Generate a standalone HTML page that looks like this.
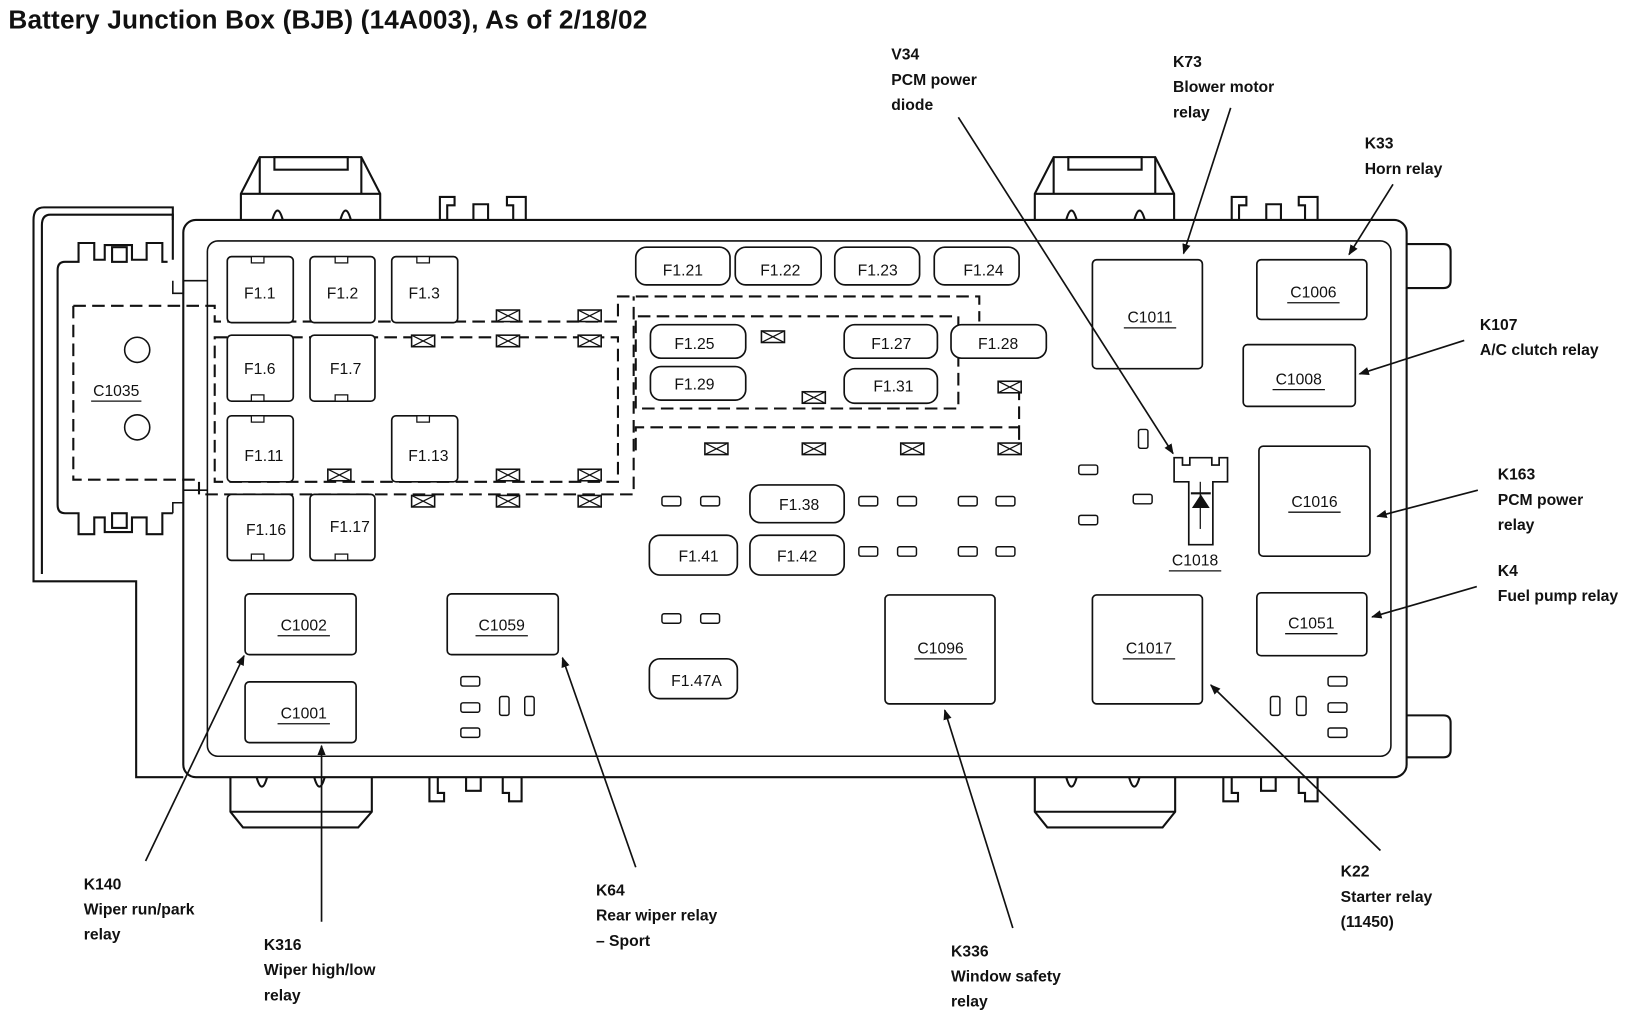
<!DOCTYPE html>
<html><head><meta charset="utf-8"><style>
html,body{margin:0;padding:0;background:#fff;}
svg{display:block;}
text{font-family:"Liberation Sans",Arial,sans-serif;fill:#111;}
.t{font-size:15px;text-anchor:middle;}
.l{font-size:15px;font-weight:bold;}
</style></head><body>
<svg width="1636" height="1016" viewBox="0 0 1562 970" preserveAspectRatio="none" xmlns="http://www.w3.org/2000/svg">
<defs>
<marker id="ar" markerWidth="10" markerHeight="8" refX="9" refY="4" orient="auto" markerUnits="userSpaceOnUse"><path d="M0,0 L10,4 L0,8 z" fill="#111"/></marker>
<g id="xb"><rect x="0" y="0" width="22" height="11" fill="#fff" stroke="#111" stroke-width="1.5"/><path d="M0,0 L22,11 M22,0 L0,11" stroke="#111" stroke-width="1.2"/></g>
<rect id="sh" width="18" height="9" rx="2" fill="#fff" stroke="#111" stroke-width="1.4"/>
<rect id="sv" width="9" height="18" rx="2" fill="#fff" stroke="#111" stroke-width="1.4"/>
</defs>
<text x="8" y="27" style="font-size:25px;font-weight:bold" textLength="610">Battery Junction Box (BJB) (14A003), As of 2/18/02</text>

<g fill="none" stroke="#111" stroke-width="2">
<path d="M230,210 V185 L248,150 H345 L363,185 V210"/><path d="M248,150 V185 M345,150 V185 M230,185 H363"/><rect x="262" y="150" width="70" height="12"/>
<path d="M260,210 Q265,192 270,210 M325,210 Q330,192 335,210"/>
<path d="M988,210 V185 L1006,150 H1103 L1121,185 V210"/><path d="M1006,150 V185 M1103,150 V185 M988,185 H1121"/><rect x="1020" y="150" width="70" height="12"/>
<path d="M1018,210 Q1023,192 1028,210 M1083,210 Q1088,192 1093,210"/>
<path d="M220,742 V775 L232,790 H342 L355,775 V742"/><path d="M220,775 H355"/>
<path d="M245,742 Q250,760 255,742 M300,742 Q305,760 310,742"/>
<path d="M988,742 V775 L1000,790 H1110 L1122,775 V742"/><path d="M988,775 H1122"/>
<path d="M1018,742 Q1023,760 1028,742 M1078,742 Q1083,760 1088,742"/>
<path d="M420,210 V188 H434 V196 H427 V210 M452,210 V195 H466 V210 M490,210 V196 H484 V188 H502 V210"/>
<path d="M1176,210 V188 H1190 V196 H1183 V210 M1209,210 V195 H1223 V210 M1246,210 V196 H1240 V188 H1258 V210"/>
<path d="M410,742 V765 H424 V757 H418 V742 M445,742 V755 H459 V742 M480,742 V757 H486 V765 H498 V742"/>
<path d="M1168,742 V765 H1182 V757 H1176 V742 M1204,742 V755 H1218 V742 M1240,742 V757 H1246 V765 H1258 V742"/>
<path d="M1343,233 H1378 Q1385,233 1385,240 V268 Q1385,275 1378,275 H1343"/>
<path d="M1343,683 H1378 Q1385,683 1385,690 V716 Q1385,723 1378,723 H1343"/>
<rect x="175" y="210" width="1168" height="532" rx="12"/>
<path d="M165,210 V198 H42 Q32,198 32,210 V555 H130 V742 H175"/>
<path d="M165,248 V205 H48 Q40,205 40,215 V548"/>
<path d="M160,250 H155 V232 H140 V248 H126 V234 H100 V248 H90 V232 H75 V250 H62 Q55,250 55,258 V482 Q55,490 62,490 H75 V510 H90 V494 H100 V508 H126 V494 H140 V510 H155 V490 H165"/>
<rect x="107" y="236" width="14" height="14"/><rect x="107" y="490" width="14" height="14"/>
</g>
<g fill="none" stroke="#111" stroke-width="1.5">
<rect x="198" y="230" width="1130" height="492" rx="10"/>
<path d="M198,268 H175 V280 H165 V268 M198,468 H175 V480 H165 V490"/>
<circle cx="131" cy="334" r="12"/><circle cx="131" cy="408" r="12"/>
</g>
<g fill="none" stroke="#111" stroke-width="2" stroke-dasharray="12,6">
<path d="M70,292 H205 V307 H590 V283 H935 V307"/>
<path d="M70,292 V458 H190 V472 H605 V283"/>
<rect x="205" y="322" width="385" height="138"/>
<path d="M607,390 V302 H915 V390 H607"/>
<path d="M607,430 V408 H973 V368 M973,408 V430"/>
</g>
<g>
<use href="#xb" x="474" y="296"/><use href="#xb" x="552" y="296"/>
<use href="#xb" x="393" y="320"/><use href="#xb" x="474" y="320"/><use href="#xb" x="552" y="320"/>
<use href="#xb" x="313" y="448"/><use href="#xb" x="474" y="448"/><use href="#xb" x="552" y="448"/>
<use href="#xb" x="393" y="473"/><use href="#xb" x="474" y="473"/><use href="#xb" x="552" y="473"/>
<use href="#xb" x="727" y="316"/><use href="#xb" x="766" y="374"/><use href="#xb" x="953" y="364"/>
<use href="#xb" x="673" y="423"/><use href="#xb" x="766" y="423"/><use href="#xb" x="860" y="423"/><use href="#xb" x="953" y="423"/>
</g>
<g fill="#fff" stroke="#111" stroke-width="1.6">
<rect x="217" y="245" width="63" height="63" rx="4"/><rect x="296" y="245" width="62" height="63" rx="4"/><rect x="374" y="245" width="63" height="63" rx="4"/>
<rect x="217" y="320" width="63" height="63" rx="4"/><rect x="296" y="320" width="62" height="63" rx="4"/>
<rect x="217" y="397" width="63" height="63" rx="4"/><rect x="374" y="397" width="63" height="63" rx="4"/>
<rect x="217" y="472" width="63" height="63" rx="4"/><rect x="296" y="472" width="62" height="63" rx="4"/>
<rect x="607" y="236" width="90" height="36" rx="10"/><rect x="702" y="236" width="82" height="36" rx="10"/><rect x="797" y="236" width="81" height="36" rx="10"/><rect x="892" y="236" width="81" height="36" rx="10"/>
<rect x="621" y="310" width="91" height="32" rx="10"/><rect x="806" y="310" width="89" height="32" rx="10"/><rect x="908" y="310" width="91" height="32" rx="10"/>
<rect x="621" y="350" width="91" height="32" rx="10"/><rect x="806" y="352" width="89" height="33" rx="10"/>
<rect x="716" y="463" width="90" height="36" rx="10"/><rect x="620" y="511" width="84" height="38" rx="10"/><rect x="716" y="511" width="90" height="38" rx="10"/>
<rect x="620" y="629" width="84" height="38" rx="10"/>
<rect x="1043" y="248" width="105" height="104" rx="4"/><rect x="1200" y="248" width="105" height="57" rx="4"/>
<rect x="1187" y="329" width="107" height="59" rx="4"/><rect x="1202" y="426" width="106" height="105" rx="4"/>
<rect x="1200" y="566" width="105" height="60" rx="4"/><rect x="1043" y="568" width="105" height="104" rx="4"/>
<rect x="845" y="568" width="105" height="104" rx="4"/>
<rect x="234" y="567" width="106" height="58" rx="4"/><rect x="234" y="651" width="106" height="58" rx="4"/>
<rect x="427" y="567" width="106" height="58" rx="4"/>
<path d="M1121,460 V437 H1129 V444 H1136 V437 H1157 V444 H1164 V437 H1172 V460 H1158 V520 H1135 V460 Z"/>
<path d="M1146,460 V505" stroke-width="1.2"/>
</g>
<path d="M1138,485 H1155 L1146.5,472 Z" fill="#111"/><path d="M1137,471 H1156" stroke="#111" stroke-width="2"/>
<g fill="#fff" stroke="#111" stroke-width="1.2">
<rect x="240" y="245" width="12" height="6"/><rect x="320" y="245" width="12" height="6"/><rect x="398" y="245" width="12" height="6"/>
<rect x="240" y="377" width="12" height="6"/><rect x="320" y="377" width="12" height="6"/>
<rect x="240" y="397" width="12" height="6"/><rect x="398" y="397" width="12" height="6"/>
<rect x="240" y="529" width="12" height="6"/><rect x="320" y="529" width="12" height="6"/>
</g>
<g>
<use href="#sh" x="632" y="474"/><use href="#sh" x="669" y="474"/>
<use href="#sh" x="820" y="474"/><use href="#sh" x="857" y="474"/><use href="#sh" x="915" y="474"/><use href="#sh" x="951" y="474"/>
<use href="#sh" x="820" y="522"/><use href="#sh" x="857" y="522"/><use href="#sh" x="915" y="522"/><use href="#sh" x="951" y="522"/>
<use href="#sh" x="632" y="586"/><use href="#sh" x="669" y="586"/>
<use href="#sh" x="1030" y="444"/><use href="#sh" x="1030" y="492"/><use href="#sh" x="1082" y="472"/><use href="#sv" x="1087" y="410"/>
<use href="#sh" x="440" y="646"/><use href="#sh" x="440" y="671"/><use href="#sh" x="440" y="695"/><use href="#sv" x="477" y="665"/><use href="#sv" x="501" y="665"/>
<use href="#sh" x="1268" y="646"/><use href="#sh" x="1268" y="671"/><use href="#sh" x="1268" y="695"/><use href="#sv" x="1213" y="665"/><use href="#sv" x="1238" y="665"/>
</g>
<g class="t">
<text class="t" x="248" y="285">F1.1</text><text class="t" x="327" y="285">F1.2</text><text class="t" x="405" y="285">F1.3</text>
<text class="t" x="248" y="357">F1.6</text><text class="t" x="330" y="357">F1.7</text>
<text class="t" x="252" y="440">F1.11</text><text class="t" x="409" y="440">F1.13</text>
<text class="t" x="254" y="511">F1.16</text><text class="t" x="334" y="508">F1.17</text>
<text class="t" x="652" y="263">F1.21</text><text class="t" x="745" y="263">F1.22</text><text class="t" x="838" y="263">F1.23</text><text class="t" x="939" y="263">F1.24</text>
<text class="t" x="663" y="333">F1.25</text><text class="t" x="851" y="333">F1.27</text><text class="t" x="953" y="333">F1.28</text>
<text class="t" x="663" y="372">F1.29</text><text class="t" x="853" y="374">F1.31</text>
<text class="t" x="763" y="487">F1.38</text><text class="t" x="667" y="536">F1.41</text><text class="t" x="761" y="536">F1.42</text>
<text class="t" x="665" y="655">F1.47A</text>
<text class="t" x="1098" y="308">C1011</text><text class="t" x="1254" y="284">C1006</text><text class="t" x="1240" y="367">C1008</text>
<text class="t" x="1255" y="484">C1016</text><text class="t" x="1252" y="600">C1051</text><text class="t" x="1097" y="624">C1017</text>
<text class="t" x="898" y="624">C1096</text><text class="t" x="290" y="602">C1002</text><text class="t" x="290" y="686">C1001</text>
<text class="t" x="479" y="602">C1059</text><text class="t" x="1141" y="540">C1018</text><text class="t" x="111" y="378">C1035</text>
</g>
<g stroke="#111" stroke-width="1.2">
<path d="M1073,313 H1123 M1229,289 H1279 M1215,372 H1265 M1230,489 H1280 M1227,605 H1277 M1072,629 H1122 M873,629 H923 M265,607 H315 M265,691 H315 M454,607 H504 M1116,545 H1166 M87,383 H135"/>
</g>
<g stroke="#111" stroke-width="1.6" fill="none" marker-end="url(#ar)">
<path d="M915,112 L1120,433"/><path d="M1175,103 L1130,242"/><path d="M1330,176 L1288,243"/>
<path d="M1398,325 L1298,357"/><path d="M1411,468 L1315,493"/><path d="M1410,560 L1310,589"/>
<path d="M1318,812 L1156,654"/><path d="M967,886 L902,678"/><path d="M607,828 L537,628"/>
<path d="M307,880 L307,712"/><path d="M139,822 L233,626"/>
</g>
<g class="l">
<text class="l" x="851" y="57">V34</text><text class="l" x="851" y="81">PCM power</text><text class="l" x="851" y="105">diode</text>
<text class="l" x="1120" y="64">K73</text><text class="l" x="1120" y="88">Blower motor</text><text class="l" x="1120" y="112">relay</text>
<text class="l" x="1303" y="142">K33</text><text class="l" x="1303" y="166">Horn relay</text>
<text class="l" x="1413" y="315">K107</text><text class="l" x="1413" y="339">A/C clutch relay</text>
<text class="l" x="1430" y="458">K163</text><text class="l" x="1430" y="482">PCM power</text><text class="l" x="1430" y="506">relay</text>
<text class="l" x="1430" y="550">K4</text><text class="l" x="1430" y="574">Fuel pump relay</text>
<text class="l" x="1280" y="837">K22</text><text class="l" x="1280" y="861">Starter relay</text><text class="l" x="1280" y="885">(11450)</text>
<text class="l" x="908" y="913">K336</text><text class="l" x="908" y="937">Window safety</text><text class="l" x="908" y="961">relay</text>
<text class="l" x="569" y="855">K64</text><text class="l" x="569" y="879">Rear wiper relay</text><text class="l" x="569" y="903">– Sport</text>
<text class="l" x="252" y="907">K316</text><text class="l" x="252" y="931">Wiper high/low</text><text class="l" x="252" y="955">relay</text>
<text class="l" x="80" y="849">K140</text><text class="l" x="80" y="873">Wiper run/park</text><text class="l" x="80" y="897">relay</text>
</g>
</svg>
</body></html>
